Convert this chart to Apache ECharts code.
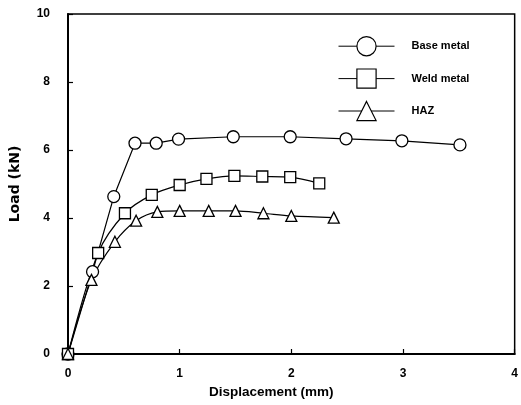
<!DOCTYPE html>
<html><head><meta charset="utf-8">
<script src="https://cdn.jsdelivr.net/npm/echarts@6/dist/echarts.min.js"></script>
<style>html,body{margin:0;padding:0;background:#fff}#c{width:521px;height:405px}</style>
</head><body><div id="c"></div>
<script>
const baseX = [0, 0.22, 0.41, 0.6, 0.79, 0.99, 1.48, 1.99, 2.49, 2.99, 3.51];
const baseY = [0, 2.42, 4.63, 6.2, 6.2, 6.32, 6.39, 6.39, 6.33, 6.27, 6.15];
const weldX = [0, 0.27, 0.51, 0.75, 1.0, 1.24, 1.49, 1.74, 1.99, 2.25];
const weldY = [0, 2.97, 4.14, 4.68, 4.97, 5.15, 5.24, 5.22, 5.2, 5.02];
const hazX = [0, 0.21, 0.42, 0.61, 0.8, 1.0, 1.26, 1.5, 1.75, 2.0, 2.38];
const hazY = [0, 2.18, 3.3, 3.92, 4.18, 4.21, 4.21, 4.21, 4.14, 4.06, 4.01];
const xTicks = [0, 1, 2, 3, 4];
const yTicks = [0, 2, 4, 6, 8, 10];
const names = ['Base metal', 'Weld metal', 'HAZ'];

const zip = (xs, ys) => xs.map((x, i) => [x, ys[i]]);
const font = 'Liberation Sans, Arial, sans-serif';
const chart = echarts.init(document.getElementById('c'));
const ser = (name, xs, ys, sym, size, smooth) => ({
  name, type: 'line', data: zip(xs, ys), symbol: sym, symbolSize: size, smooth,
  showAllSymbol: true,
  lineStyle: {color: '#000', width: 1.2},
  itemStyle: {color: '#fff', borderColor: '#000', borderWidth: 1.3},
  emphasis: {disabled: true}, animation: false
});
chart.setOption({
  animation: false,
  grid: {left: 68, right: 3, top: 14, bottom: 51, show: true, borderColor: '#000', borderWidth: 1.5},
  legend: {
    orient: 'vertical', left: 333, top: 31, itemWidth: 56, itemHeight: 24, itemGap: 12,
    data: names,
    lineStyle: {width: 1},
    itemStyle: {borderWidth: 1.2},
    textStyle: {fontFamily: font, fontWeight: 'bold', fontSize: 11, color: '#000', padding: [0,0,0,12]},
    selectedMode: false
  },
  xAxis: {
    type: 'value', min: 0, max: 4, interval: 1,
    name: 'Displacement (mm)', nameLocation: 'middle', nameGap: 30,
    nameTextStyle: {fontFamily: font, fontWeight: 'bold', fontSize: 13.5, color: '#000', padding: [0, 40, 0, 0]},
    axisLine: {lineStyle: {color: '#000', width: 2}},
    axisTick: {inside: true, length: 5, lineStyle: {color: '#000', width: 1.2}},
    axisLabel: {fontFamily: font, fontWeight: 'bold', fontSize: 12, color: '#000', margin: 14,
      formatter: v => xTicks.includes(v) ? String(v) : ''},
    splitLine: {show: false}
  },
  yAxis: {
    type: 'value', min: 0, max: 10, interval: 2,
    name: 'Load (kN)', nameLocation: 'middle', nameGap: 46,
    nameTextStyle: {fontFamily: 'DejaVu Sans', fontWeight: 'bold', fontSize: 14, color: '#000'},
    axisLine: {show: true, lineStyle: {color: '#000', width: 2}},
    axisTick: {show: true, inside: true, length: 5, lineStyle: {color: '#000', width: 1.2}},
    axisLabel: {fontFamily: font, fontWeight: 'bold', fontSize: 12, color: '#000', margin: 18,
      formatter: v => yTicks.includes(v) ? String(v) : ''},
    splitLine: {show: false}
  },
  series: [
    ser(names[0], baseX, baseY, 'circle', 12, false),
    ser(names[1], weldX, weldY, 'rect', 11, 0.3),
    ser(names[2], hazX, hazY, 'triangle', 11, 0.3)
  ]
});
</script></body></html>
